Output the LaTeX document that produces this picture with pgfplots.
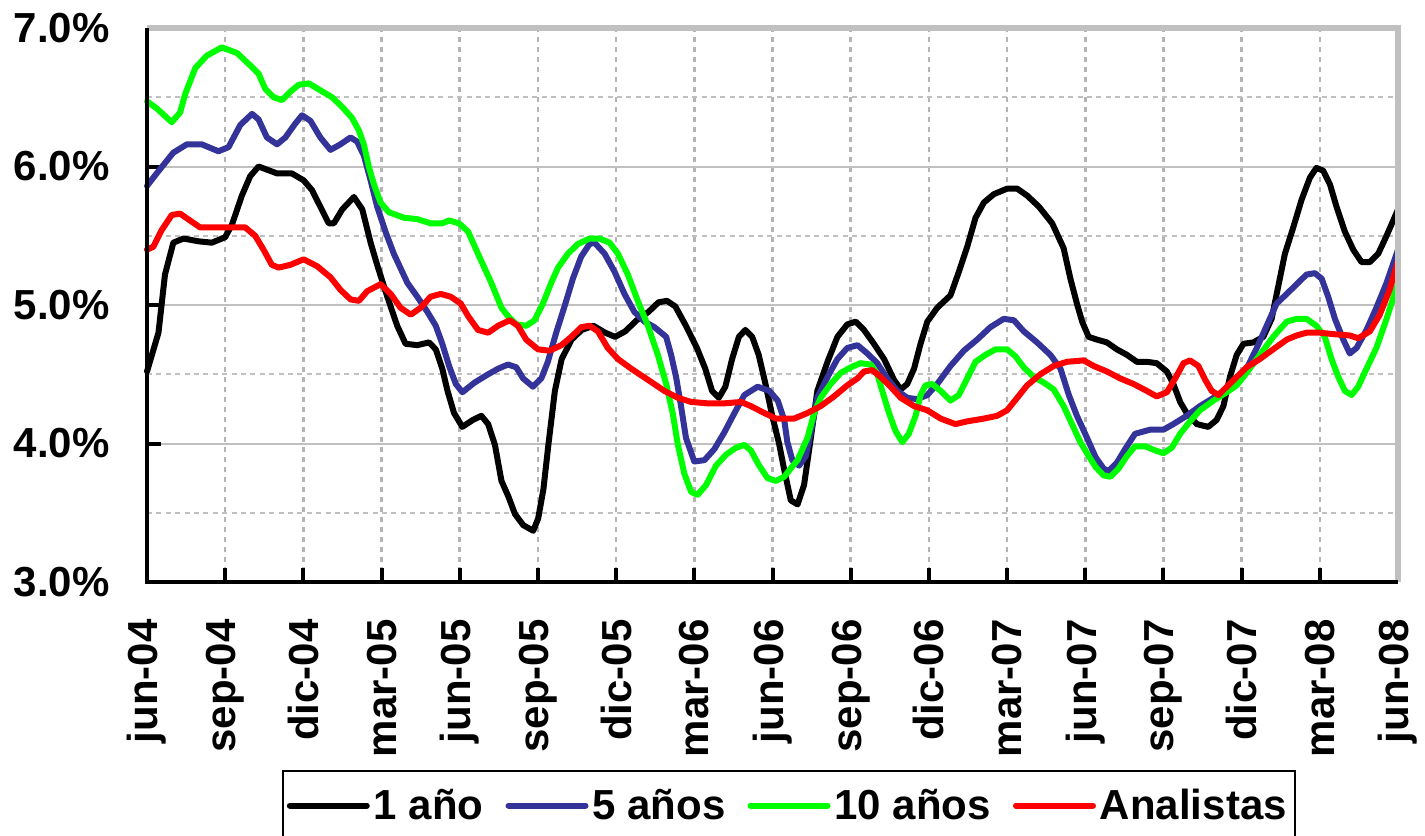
\documentclass[border=0pt]{standalone}
\usepackage{fontspec}
\setmainfont{Liberation Sans}
\usepackage{pgfplots}
\pgfplotsset{compat=1.18}
\definecolor{gridgray}{HTML}{C0C0C0}
\definecolor{dashgray}{HTML}{B4B4B4}
\definecolor{serblue}{HTML}{333399}
\definecolor{sergreen}{HTML}{00FF00}
\definecolor{serred}{HTML}{FF0000}
\newcommand{\bigf}{\fontsize{21}{25}\selectfont\bfseries}
\begin{document}
\begin{tikzpicture}
\begin{axis}[
  width=625.5pt, height=277pt, scale only axis,
  xmin=0, xmax=48, ymin=3, ymax=7,
  clip=false,
  axis line style={draw=none},
  xtick={0,3,...,48},
  xticklabels={jun-04,sep-04,dic-04,mar-05,jun-05,sep-05,dic-05,mar-06,jun-06,sep-06,dic-06,mar-07,jun-07,sep-07,dic-07,mar-08,jun-08},
  ytick={3,4,5,6,7},
  yticklabels={3.0\%,4.0\%,5.0\%,6.0\%,7.0\%},
  extra y ticks={3.5,4.5,5.5,6.5},
  extra y tick labels={},
  extra y tick style={major tick length=0pt, grid style={dashgray, line width=1.3pt, dash pattern=on 2.5pt off 2.2pt}},
  xmajorgrids, ymajorgrids,
  x grid style={dashgray, line width=1.3pt, dash pattern=on 2.5pt off 2.5pt},
  y grid style={gridgray, line width=1pt},
  tick align=inside, xtick pos=bottom, ytick pos=left,
  major tick length=7pt,
  tick style={black, line width=2pt},
  /pgf/number format/assume math mode=true,
  every tick label/.append style={font=\bigf},
  xticklabel style={rotate=90, anchor=east, inner sep=0pt},
  yticklabel style={anchor=east, inner sep=0pt},
  xticklabel shift=18.5pt,
  yticklabel shift=18.5pt,
  legend columns=4,
  legend style={at={(0.513,-0.339)}, anchor=north, draw=black, line width=1pt,
    font=\bigf, inner xsep=2pt, inner ysep=7pt,
    /tikz/every even column/.append style={column sep=9pt}},
  legend image code/.code={\draw[#1, line width=3pt] (0pt,0pt) -- (38.5pt,0pt);},
  every axis plot/.append style={line width=3pt, line join=round, line cap=round},
]
\addplot[black] coordinates {
(0,4.52)(0.44,4.80)(0.69,5.22)(1.01,5.45)(1.4,5.48)(1.97,5.46)(2.49,5.45)(3.0,5.49)(3.26,5.58)(3.64,5.79)(3.96,5.93)(4.28,6.0)(4.99,5.95)(5.56,5.95)(6.01,5.90)(6.33,5.83)(6.65,5.71)(6.97,5.59)(7.17,5.59)(7.49,5.69)(7.94,5.78)(8.26,5.69)(8.58,5.45)(8.83,5.29)(9.22,5.06)(9.6,4.85)(9.92,4.72)(10.37,4.71)(10.82,4.73)(11.08,4.68)(11.33,4.54)(11.53,4.38)(11.78,4.22)(12.1,4.12)(12.5,4.17)(12.83,4.20)(13.09,4.14)(13.35,3.99)(13.6,3.73)(13.86,3.62)(14.12,3.49)(14.44,3.41)(14.82,3.37)(15.01,3.46)(15.21,3.67)(15.4,3.99)(15.65,4.38)(15.91,4.61)(16.29,4.75)(16.68,4.82)(17.13,4.85)(17.58,4.80)(17.96,4.77)(18.35,4.81)(18.79,4.89)(19.24,4.95)(19.63,5.02)(19.95,5.03)(20.27,4.99)(20.65,4.86)(21.1,4.69)(21.42,4.54)(21.68,4.38)(21.94,4.33)(22.19,4.41)(22.45,4.61)(22.71,4.77)(22.96,4.82)(23.22,4.77)(23.47,4.64)(23.73,4.43)(23.99,4.20)(24.25,4.00)(24.45,3.81)(24.70,3.59)(24.96,3.56)(25.21,3.70)(25.47,4.04)(25.72,4.38)(26.11,4.59)(26.49,4.77)(26.87,4.86)(27.19,4.88)(27.51,4.82)(27.89,4.72)(28.28,4.61)(28.66,4.46)(28.92,4.39)(29.17,4.43)(29.43,4.54)(29.68,4.72)(29.94,4.88)(30.32,4.98)(30.83,5.07)(31.15,5.24)(31.47,5.42)(31.79,5.63)(32.11,5.74)(32.49,5.80)(33.0,5.84)(33.39,5.84)(33.77,5.79)(34.22,5.71)(34.73,5.59)(35.17,5.41)(35.43,5.19)(35.68,5.01)(35.88,4.88)(36.13,4.77)(36.45,4.75)(36.83,4.73)(37.21,4.68)(37.60,4.64)(37.98,4.59)(38.36,4.59)(38.74,4.58)(39.13,4.52)(39.38,4.43)(39.64,4.30)(39.89,4.22)(40.28,4.14)(40.72,4.12)(41.04,4.17)(41.30,4.27)(41.55,4.48)(41.81,4.64)(42.07,4.72)(42.45,4.73)(42.83,4.77)(43.15,4.90)(43.41,5.14)(43.66,5.37)(43.98,5.56)(44.30,5.76)(44.62,5.92)(44.87,5.99)(45.13,5.97)(45.39,5.87)(45.64,5.71)(45.96,5.53)(46.28,5.40)(46.60,5.31)(46.92,5.31)(47.24,5.37)(47.56,5.50)(48.0,5.69)
};
\addlegendentry{1 año}
\addplot[serblue] coordinates {
(0,5.86)(0.37,5.95)(1.01,6.10)(1.53,6.16)(2.10,6.16)(2.74,6.11)(3.13,6.14)(3.58,6.30)(4.03,6.38)(4.28,6.34)(4.60,6.21)(4.99,6.16)(5.31,6.21)(5.69,6.31)(5.95,6.37)(6.27,6.33)(6.65,6.21)(7.04,6.12)(7.42,6.16)(7.81,6.21)(8.06,6.18)(8.32,6.08)(8.58,5.90)(8.83,5.71)(9.15,5.53)(9.47,5.37)(9.99,5.16)(10.37,5.06)(10.76,4.95)(11.08,4.85)(11.33,4.72)(11.59,4.56)(11.85,4.43)(12.10,4.37)(12.57,4.44)(13.09,4.50)(13.47,4.54)(13.85,4.57)(14.17,4.55)(14.43,4.47)(14.81,4.41)(15.13,4.47)(15.38,4.59)(15.70,4.80)(16.02,4.99)(16.34,5.19)(16.66,5.35)(16.98,5.44)(17.17,5.45)(17.56,5.37)(17.94,5.24)(18.32,5.08)(18.70,4.95)(19.09,4.88)(19.47,4.84)(19.92,4.77)(20.11,4.64)(20.30,4.48)(20.49,4.27)(20.68,4.04)(21.00,3.87)(21.39,3.88)(21.77,3.96)(22.15,4.08)(22.54,4.22)(22.92,4.35)(23.43,4.41)(23.88,4.38)(24.20,4.31)(24.45,4.17)(24.57,4.01)(24.76,3.88)(25.02,3.84)(25.28,3.91)(25.53,4.14)(25.72,4.33)(26.11,4.48)(26.49,4.61)(26.87,4.69)(27.26,4.71)(27.64,4.65)(28.02,4.58)(28.40,4.47)(28.79,4.38)(29.17,4.33)(29.55,4.32)(29.94,4.35)(30.32,4.43)(30.83,4.56)(31.34,4.67)(31.85,4.75)(32.36,4.84)(32.87,4.90)(33.26,4.89)(33.64,4.81)(34.15,4.73)(34.66,4.64)(35.05,4.54)(35.37,4.35)(35.68,4.20)(36.07,4.04)(36.40,3.90)(36.70,3.82)(36.89,3.80)(37.21,3.86)(37.53,3.96)(37.91,4.07)(38.49,4.10)(39.0,4.10)(39.38,4.14)(39.89,4.20)(40.40,4.27)(40.92,4.33)(41.43,4.38)(41.81,4.43)(42.19,4.54)(42.58,4.69)(42.96,4.85)(43.34,5.01)(43.73,5.08)(44.11,5.15)(44.49,5.22)(44.81,5.23)(45.07,5.19)(45.32,5.06)(45.58,4.90)(45.90,4.75)(46.15,4.65)(46.41,4.69)(46.79,4.82)(47.17,4.98)(47.56,5.16)(48.0,5.40)
};
\addlegendentry{5 años}
\addplot[sergreen] coordinates {
(0,6.47)(0.37,6.42)(0.95,6.32)(1.27,6.39)(1.46,6.52)(1.85,6.71)(2.29,6.80)(2.87,6.86)(3.45,6.82)(3.96,6.73)(4.28,6.67)(4.54,6.56)(4.86,6.50)(5.18,6.48)(5.50,6.54)(5.82,6.59)(6.21,6.60)(6.65,6.55)(7.10,6.50)(7.49,6.43)(7.87,6.35)(8.13,6.26)(8.32,6.16)(8.51,6.00)(8.71,5.87)(8.96,5.74)(9.28,5.67)(9.86,5.63)(10.37,5.62)(10.88,5.59)(11.33,5.59)(11.59,5.61)(11.97,5.59)(12.32,5.53)(12.70,5.37)(13.21,5.16)(13.60,4.98)(13.85,4.92)(14.17,4.86)(14.55,4.85)(14.87,4.89)(15.19,5.01)(15.51,5.16)(15.77,5.27)(16.15,5.37)(16.53,5.44)(16.98,5.48)(17.36,5.48)(17.75,5.45)(18.07,5.37)(18.45,5.22)(18.83,5.03)(19.22,4.85)(19.60,4.64)(19.92,4.43)(20.17,4.22)(20.37,3.99)(20.62,3.78)(20.88,3.65)(21.13,3.63)(21.45,3.70)(21.83,3.84)(22.22,3.92)(22.60,3.97)(22.92,3.99)(23.17,3.95)(23.49,3.84)(23.81,3.75)(24.13,3.73)(24.45,3.76)(24.70,3.82)(24.96,3.88)(25.34,4.04)(25.60,4.22)(25.85,4.33)(26.23,4.43)(26.62,4.51)(27.0,4.55)(27.38,4.58)(27.77,4.57)(28.02,4.50)(28.21,4.38)(28.47,4.22)(28.72,4.09)(28.98,4.01)(29.23,4.07)(29.49,4.20)(29.68,4.35)(29.87,4.42)(30.13,4.43)(30.45,4.38)(30.83,4.31)(31.15,4.35)(31.47,4.47)(31.79,4.59)(32.17,4.64)(32.56,4.68)(33.0,4.68)(33.32,4.63)(33.64,4.55)(34.02,4.48)(34.41,4.44)(34.79,4.39)(35.17,4.27)(35.49,4.14)(35.81,4.01)(36.13,3.91)(36.40,3.83)(36.70,3.77)(36.96,3.76)(37.28,3.82)(37.60,3.91)(37.91,3.98)(38.30,3.98)(38.68,3.95)(39.0,3.93)(39.32,3.97)(39.64,4.07)(40.02,4.16)(40.40,4.24)(40.92,4.31)(41.43,4.37)(41.81,4.42)(42.19,4.51)(42.70,4.64)(43.21,4.77)(43.73,4.88)(44.11,4.90)(44.49,4.90)(44.87,4.85)(45.19,4.77)(45.45,4.61)(45.71,4.48)(45.96,4.38)(46.22,4.35)(46.47,4.41)(46.79,4.54)(47.17,4.69)(47.56,4.90)(48.0,5.16)
};
\addlegendentry{10 años}
\addplot[serred] coordinates {
(0,5.40)(0.24,5.42)(0.56,5.54)(0.95,5.65)(1.27,5.66)(1.65,5.61)(2.04,5.56)(2.55,5.56)(3.06,5.56)(3.77,5.56)(4.15,5.50)(4.47,5.40)(4.79,5.29)(5.05,5.27)(5.50,5.29)(6.01,5.33)(6.53,5.28)(7.04,5.20)(7.42,5.11)(7.81,5.04)(8.13,5.03)(8.45,5.10)(8.96,5.15)(9.35,5.08)(9.73,4.98)(10.12,4.93)(10.50,4.98)(10.88,5.06)(11.27,5.08)(11.65,5.06)(12.04,5.01)(12.32,4.92)(12.70,4.82)(13.09,4.80)(13.47,4.85)(13.92,4.89)(14.23,4.85)(14.55,4.75)(15.0,4.68)(15.45,4.67)(15.90,4.71)(16.28,4.77)(16.66,4.84)(16.98,4.85)(17.30,4.81)(17.68,4.69)(18.07,4.61)(18.58,4.54)(19.22,4.46)(19.85,4.38)(20.37,4.33)(20.88,4.30)(21.51,4.29)(22.15,4.29)(22.79,4.30)(23.17,4.27)(23.69,4.22)(24.13,4.18)(24.58,4.18)(24.83,4.18)(25.34,4.22)(25.85,4.27)(26.36,4.34)(26.87,4.42)(27.26,4.47)(27.51,4.52)(27.83,4.53)(28.15,4.48)(28.53,4.41)(28.92,4.33)(29.43,4.27)(29.94,4.24)(30.45,4.18)(31.02,4.14)(31.47,4.16)(32.11,4.18)(32.62,4.20)(33.0,4.24)(33.39,4.33)(33.77,4.42)(34.28,4.50)(34.79,4.56)(35.30,4.59)(35.94,4.60)(36.32,4.56)(36.83,4.52)(37.34,4.47)(37.85,4.43)(38.36,4.38)(38.74,4.34)(39.13,4.37)(39.45,4.47)(39.77,4.58)(40.02,4.60)(40.34,4.56)(40.60,4.46)(40.85,4.38)(41.11,4.35)(41.43,4.41)(41.81,4.48)(42.19,4.55)(42.70,4.61)(43.21,4.68)(43.73,4.75)(44.11,4.78)(44.49,4.80)(45.0,4.80)(45.51,4.79)(46.15,4.78)(46.47,4.76)(46.92,4.81)(47.30,4.93)(47.68,5.11)(48.0,5.32)
};
\addlegendentry{Analistas}
\draw[gridgray, line width=3pt] (rel axis cs:0,1) -- (rel axis cs:1,1) -- (rel axis cs:1,0);
\draw[black, line width=2pt] (rel axis cs:0,1) -- (rel axis cs:0,0) -- (rel axis cs:1,0);
\end{axis}
\pgfresetboundingbox
\path[use as bounding box] ([xshift=-73.5pt,yshift=-126.5pt]current axis.south west) rectangle ([xshift=13.5pt,yshift=14pt]current axis.north east);
\end{tikzpicture}
\end{document}
